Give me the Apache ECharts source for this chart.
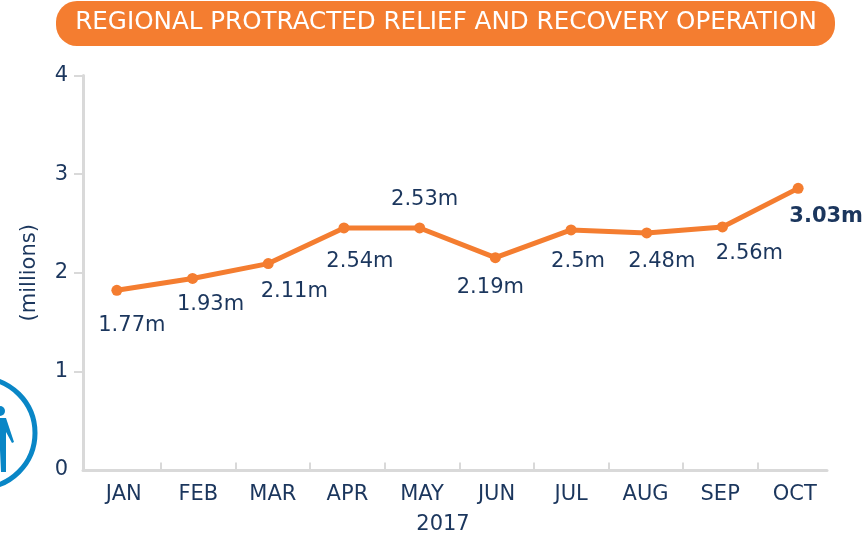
<!DOCTYPE html>
<html><head><meta charset="utf-8">
<style>html,body{margin:0;padding:0;background:#fff}#c{width:867px;height:540px}</style>
<script src="https://cdn.jsdelivr.net/npm/echarts@6/dist/echarts.min.js"></script>
</head><body><div id="c"></div>
<script>
const categories=['JAN','FEB','MAR','APR','MAY','JUN','JUL','AUG','SEP','OCT'];
const plotted=[1.83,1.95,2.10,2.46,2.46,2.16,2.44,2.41,2.47,2.86];
const labelTexts=['1.77m','1.93m','2.11m','2.54m','2.53m','2.19m','2.5m','2.48m','2.56m','3.03m'];
const yTicks=[1,2,3,4];
const bandEdges=[1,2,3,4,5,6,7,8,9];
const labelOffsets=[[15,35],[18,26],[26,28],[16,34],[5,-28],[-5,30],[7,32],[15,29],[27,27],[28,28]];
const titleText='REGIONAL PROTRACTED RELIEF AND RECOVERY OPERATION';
const FONT='"DejaVu Sans",sans-serif', INK='#1b365d', ORANGE='#f47d30', AXIS='#d9d9d9', BLUE='#0986c6';
const chart=echarts.init(document.getElementById('c'),null,{renderer:'canvas'});
const gridTop=75.5,gridBottom=540-471.5;
chart.setOption({
 animation:false,
 grid:[
  {left:83,right:40,top:gridTop,bottom:gridBottom},
  {left:86.5,right:35,top:gridTop,bottom:gridBottom},
  {left:79,right:31,top:gridTop,bottom:gridBottom}
 ],
 graphic:[
  {type:'rect',z:0,shape:{x:56,y:1,width:779,height:45,r:21},style:{fill:ORANGE}},
  {type:'text',z:1,x:446,y:23,style:{text:titleText,fill:'#fff',font:'24.6px '+FONT,textAlign:'center',textVerticalAlign:'middle'}},
  {type:'circle',shape:{cx:-20,cy:433,r:55},style:{fill:'none',stroke:BLUE,lineWidth:5}},
  {type:'circle',shape:{cx:0,cy:411,r:5},style:{fill:BLUE}},
  {type:'polygon',shape:{points:[[-6,418],[6,418],[14,442],[12,443],[6,432],[6,472],[1,472],[0,450],[-6,450]]},style:{fill:BLUE}}
 ],
 xAxis:[
  {gridIndex:0,type:'category',data:categories,axisLine:{lineStyle:{color:AXIS,width:3}},axisTick:{show:false},axisLabel:{show:false},
   name:'2017',nameLocation:'middle',nameGap:44,nameTextStyle:{color:INK,fontFamily:FONT,fontSize:21,padding:[0,24,0,0]}},
  {gridIndex:1,type:'category',position:'bottom',data:categories,axisLine:{show:false},axisTick:{show:false},
   axisLabel:{color:INK,fontFamily:FONT,fontSize:21,margin:13}},
  {gridIndex:2,type:'category',data:categories,show:false},
  {gridIndex:1,type:'value',position:'bottom',min:0,max:10,interval:1,splitLine:{show:false},axisLine:{show:false},axisLabel:{show:false},
   axisTick:{show:true,inside:true,length:9,lineStyle:{color:AXIS,width:2},customValues:bandEdges}}
 ],
 yAxis:[
  {gridIndex:0,type:'value',min:0,max:4,interval:1,splitLine:{show:false},
   axisLine:{show:true,lineStyle:{color:AXIS,width:3}},
   axisTick:{show:true,length:9,lineStyle:{color:AXIS,width:2},customValues:yTicks},
   axisLabel:{color:INK,fontFamily:FONT,fontSize:21,margin:15},
   name:'(millions)',nameLocation:'middle',nameGap:43,nameRotate:90,nameTextStyle:{color:INK,fontFamily:FONT,fontSize:21}},
  {gridIndex:1,type:'value',min:0,max:4,show:false},
  {gridIndex:2,type:'value',min:0,max:4,show:false}
 ],
 series:[{
  type:'line',xAxisIndex:2,yAxisIndex:2,z:5,
  data:plotted.map((v,i)=>({value:v,label:{offset:labelOffsets[i],formatter:labelTexts[i],fontWeight:i===9?'bold':'normal'}})),
  symbol:'circle',symbolSize:11,
  lineStyle:{color:ORANGE,width:5},itemStyle:{color:ORANGE},
  label:{show:true,position:'inside',color:INK,fontFamily:FONT,fontSize:21}
 }]
});
</script></body></html>
